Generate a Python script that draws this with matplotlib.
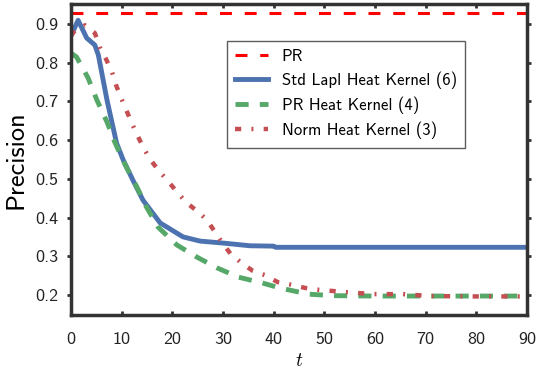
import numpy as np
import matplotlib
matplotlib.use("Agg")
import matplotlib.pyplot as plt

plt.rcParams['font.family'] = ['cmss10', 'DejaVu Sans']
plt.rcParams['mathtext.fontset'] = 'cm'
plt.rcParams['axes.unicode_minus'] = False

# valores
pr_value = 0.928

t_std = [0, 1.4, 3.1, 4.7, 5.4, 7.1, 9.0, 10.3, 12.2, 14.2, 17.6, 22.1, 25.5, 30, 35.3, 40, 40.4, 60, 90]
p_std = [0.87, 0.91, 0.864, 0.846, 0.82, 0.704, 0.592, 0.549, 0.497, 0.445, 0.386, 0.35, 0.339, 0.334, 0.327, 0.326, 0.323, 0.323, 0.323]

t_prhk = [0, 1.1, 3.4, 5.1, 7.1, 8.7, 10.7, 13, 14.9, 17.2, 20.9, 24.8, 28.8, 33, 37.7, 41.2, 46.8, 51.5, 60, 70, 80, 90]
p_prhk = [0.825, 0.815, 0.76, 0.704, 0.647, 0.593, 0.536, 0.479, 0.427, 0.375, 0.329, 0.298, 0.27, 0.246, 0.231, 0.218, 0.202, 0.198, 0.197, 0.197, 0.197, 0.197]

t_norm = [0, 0.8, 2.8, 4.7, 5.7, 6.9, 8.1, 8.9, 9.9, 10.9, 12, 13.1, 14.3, 15.7, 17.4, 19.3, 20.9, 22.9, 24.9,
          26.8, 28.4, 29.9, 31.5, 33.7, 35.9, 38.3, 40.8, 43.6, 46.2, 49, 54.4, 59.6, 65.5, 70.9, 80, 90]
p_norm = [0.87, 0.884, 0.897, 0.877, 0.84, 0.81, 0.776, 0.742, 0.709, 0.678, 0.644, 0.613, 0.58, 0.549, 0.52, 0.492,
          0.466, 0.437, 0.417, 0.394, 0.363, 0.334, 0.306, 0.282, 0.262, 0.251, 0.233, 0.226, 0.218, 0.213, 0.207,
          0.202, 0.202, 0.197, 0.196, 0.196]

fig = plt.figure(figsize=(5.36, 3.72), dpi=100)
ax = fig.add_axes([71/536, 1 - 315/372, 456/536, 311/372])

ax.axhline(pr_value, color='red', lw=2.2, ls=(0, (3.9, 4.2)), label='PR')
ax.plot(t_std, p_std, color='#4C72B0', lw=3.5, label='Std Lapl Heat Kernel (6)')
ax.plot(t_prhk, p_prhk, color='#55A868', lw=3.5, ls=(0, (2.7, 2.3)), label='PR Heat Kernel (4)')
ax.plot(t_norm, p_norm, color='#C44E52', lw=3.2, ls=(0, (1.4, 2.3, 0.45, 2.3)), label='Norm Heat Kernel (3)')

ax.set_xlim(0, 90)
ax.set_ylim(0.148, 0.952)
ax.set_xticks(np.arange(0, 91, 10))
ax.set_yticks([0.2, 0.3, 0.4, 0.5, 0.6, 0.7, 0.8, 0.9])
ax.set_xticklabels([str(v) for v in range(0, 91, 10)])
ax.set_yticklabels(['0.2', '0.3', '0.4', '0.5', '0.6', '0.7', '0.8', '0.9'])

for s in ax.spines.values():
    s.set_linewidth(2.5)
    s.set_color('#333333')
ax.tick_params(axis='both', which='major', labelsize=13, width=2, length=3,
               color='#333333', labelcolor='#222222', top=True, right=True, direction='in')
ax.tick_params(axis='x', pad=12)
ax.tick_params(axis='y', direction='out', pad=6)

ax.set_xlabel('$t$', fontsize=14, labelpad=4)
ax.set_ylabel('Precision', fontsize=19, labelpad=6)

leg = ax.legend(loc='upper right', bbox_to_anchor=((465 - 71)/456, 1 - 37/311), fontsize=12,
                frameon=True, fancybox=False, handlelength=2.0, borderpad=0.5, labelspacing=0.45,
                handletextpad=0.8, borderaxespad=0)
leg.get_frame().set_edgecolor('#333333')
leg.get_frame().set_linewidth(1.0)

fig.savefig('out.png', dpi=100)
